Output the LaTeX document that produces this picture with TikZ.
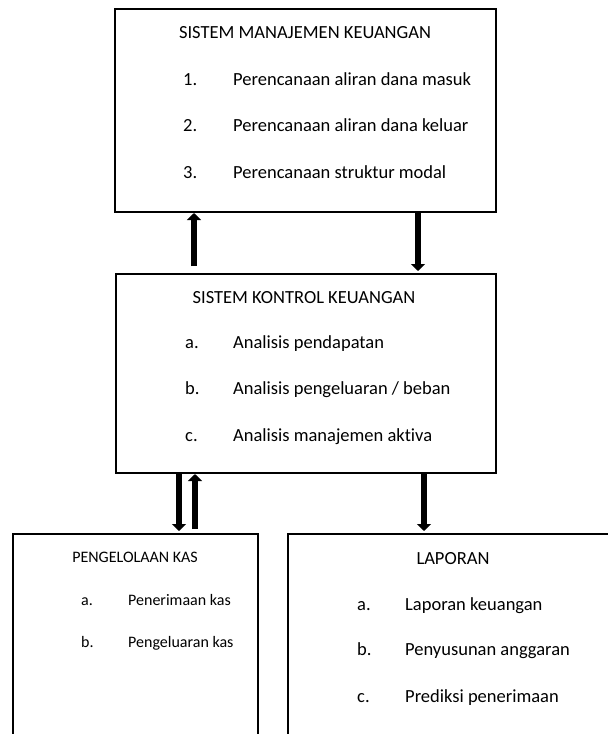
\documentclass[tikz,border=0pt]{standalone}
\usepackage{fontspec}
\setmainfont[Ligatures=CommonOff]{Carlito}
\usetikzlibrary{arrows.meta}
\tikzset{
  box/.style={draw, line width=2pt, inner sep=0pt},
  big/.style={font=\fontsize{18.5}{22}\selectfont, inner sep=0pt},
  small/.style={font=\fontsize{16}{19}\selectfont, inner sep=0pt},
  arr/.style={line width=6pt, -{Triangle[width=14pt,length=7pt]}},
}
\begin{document}
\begin{tikzpicture}[x=1pt,y=-1pt]
\useasboundingbox (0,0) rectangle (608,734);
\clip (0,0) rectangle (608,734);
% boxes
\node[box, minimum width=381pt, minimum height=203pt] (top) at (305.5,110.5) {};
\node[box, minimum width=380.3pt, minimum height=199.5pt] (mid) at (305.9,373.25) {};
\node[box, minimum width=245.3pt, minimum height=226pt] (kas) at (135.3,647) {};
\node[box, minimum width=352pt, minimum height=226.5pt] (lap) at (464,646.75) {};
% top texts
\node[big, anchor=base] (t0) at (305,38.5) {SISTEM MANAJEMEN KEUANGAN};
\node[big, anchor=base west] (t1n) at (183,85) {1.};
\node[big, anchor=base west] (t1) at (233,85) {Perencanaan aliran dana masuk};
\node[big, anchor=base west] (t2n) at (183,131.7) {2.};
\node[big, anchor=base west] (t2) at (233,131.7) {Perencanaan aliran dana keluar};
\node[big, anchor=base west] (t3n) at (183,178.3) {3.};
\node[big, anchor=base west] (t3) at (233,178.3) {Perencanaan struktur modal};
% middle texts
\node[big, anchor=base] (m0) at (304,303) {SISTEM KONTROL KEUANGAN};
\node[big, anchor=base west] (m1n) at (185,348.5) {a.};
\node[big, anchor=base west] (m1) at (233,348.5) {Analisis pendapatan};
\node[big, anchor=base west] (m2n) at (185,394.5) {b.};
\node[big, anchor=base west] (m2) at (233,394.5) {Analisis pengeluaran / beban};
\node[big, anchor=base west] (m3n) at (185,441) {c.};
\node[big, anchor=base west] (m3) at (233,441) {Analisis manajemen aktiva};
% kas texts
\node[small, anchor=base] (k0) at (135,562) {PENGELOLAAN KAS};
\node[small, anchor=base west] (k1n) at (81,605) {a.};
\node[small, anchor=base west] (k1) at (128,605) {Penerimaan kas};
\node[small, anchor=base west] (k2n) at (81,647) {b.};
\node[small, anchor=base west] (k2) at (128,647) {Pengeluaran kas};
% laporan texts
\node[big, anchor=base] (l0) at (453,564) {LAPORAN};
\node[big, anchor=base west] (l1n) at (357,610) {a.};
\node[big, anchor=base west] (l1) at (405,610) {Laporan keuangan};
\node[big, anchor=base west] (l2n) at (357,655) {b.};
\node[big, anchor=base west] (l2) at (405,655) {Penyusunan anggaran};
\node[big, anchor=base west] (l3n) at (357,702) {c.};
\node[big, anchor=base west] (l3) at (405,702) {Prediksi penerimaan};
% arrow ends
\coordinate (a1) at (194,266);
\coordinate (a2) at (418,213);
\coordinate (a3) at (179,474);
\coordinate (a4) at (195,529);
\coordinate (a5) at (424,474);
\coordinate (e2) at (418,271);
\coordinate (e3) at (179,531);
\coordinate (e5) at (424,531);
% arrows
\draw[arr] (a1) -- (top.south -| a1);
\draw[arr] (a2) -- (e2);
\draw[arr] (a3) -- (e3);
\draw[arr] (a4) -- (mid.south -| a4);
\draw[arr] (a5) -- (e5);
\end{tikzpicture}
\end{document}
